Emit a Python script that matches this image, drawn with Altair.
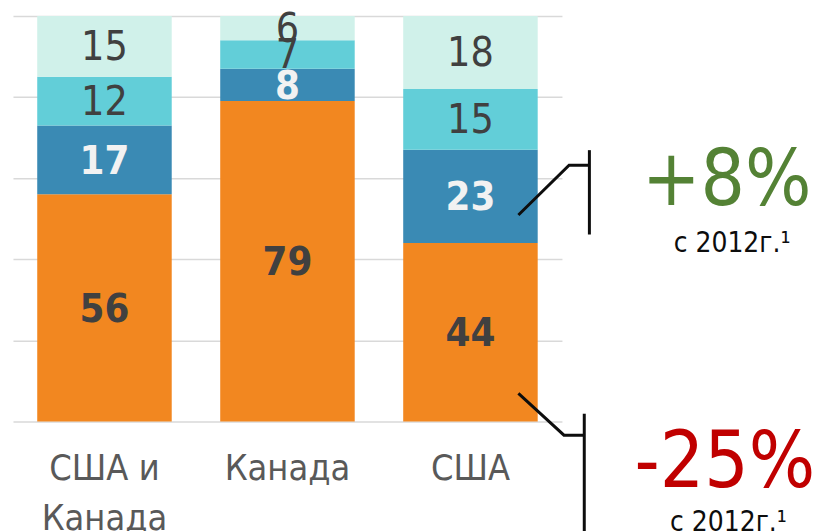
import altair as alt
import pandas as pd

# ---- data ----
categories = ["США и\nКанада", "Канада", "США"]
series = ["s1", "s2", "s3", "s4"]  # bottom -> top
s1_values = [56, 79, 44]
s2_values = [17, 8, 23]
s3_values = [12, 7, 15]
s4_values = [15, 6, 18]
series_colors = ["#F28720", "#3A8AB4", "#62CED8", "#D0F1EA"]

# bracket annotation paths (x in category units, y in percent units)
path_id = ["a", "a", "a", "b", "b", "c", "c", "c", "d", "d"]
path_x = [2.262, 2.539, 2.650, 2.650, 2.650, 2.262, 2.511, 2.622, 2.622, 2.622]
path_y = [50.9, 63.2, 63.2, 66.9, 46.1, 6.9, -3.4, -3.4, 1.9, -28.0]

ann_big_text = ["+8%", "-25%"]
ann_big_x = [3.40, 3.39]
ann_big_y = [53.4, -16.2]
ann_big_colors = ["#548235", "#C00000"]
ann_small_text = ["с 2012г.¹", "с 2012г.¹"]
ann_small_x = [3.43, 3.41]
ann_small_y = [41.7, -27.0]

FONT = "DejaVu Sans Condensed"

rows = []
for si, (s, vals) in enumerate(zip(series, [s1_values, s2_values, s3_values, s4_values])):
    for c, v in zip(categories, vals):
        rows.append({"cat": c, "series": s, "order": si, "value": v})
df = pd.DataFrame(rows)

paths = pd.DataFrame({"pid": path_id, "x": path_x, "y": path_y, "i": list(range(len(path_x)))})
big = pd.DataFrame({"text": ann_big_text, "x": ann_big_x, "y": ann_big_y, "k": ann_big_text})
small = pd.DataFrame({"text": ann_small_text, "x": ann_small_x, "y": ann_small_y})

yscale = alt.Scale(domain=[0, 100], nice=False, zero=False)
yaxis = alt.Axis(
    title=None, labels=False, ticks=False, domain=False,
    values=[0, 20, 40, 60, 80, 100], grid=True,
    gridColor="#D9D9D9", gridWidth=1.5,
)

xband = alt.X(
    "cat:N",
    sort=categories,
    scale=alt.Scale(paddingInner=0.265, paddingOuter=0.1325),
    axis=alt.Axis(
        title=None, labelExpr="split(datum.label, '\\n')", labelAngle=0,
        ticks=False, domain=False, labelFont=FONT, labelFontSize=36,
        labelColor="#595959", labelPadding=30, labelLineHeight=50, labelLimit=400,
        grid=False,
    ),
)

base = alt.Chart(df)

bars = base.mark_bar().encode(
    x=xband,
    y=alt.Y("value:Q", stack="zero", scale=yscale, axis=yaxis),
    color=alt.Color("series:N", scale=alt.Scale(domain=series, range=series_colors), legend=None),
    order=alt.Order("order:Q", sort="ascending"),
)

stacked = base.transform_stack(
    stack="value", groupby=["cat"], sort=[alt.SortField("order", order="ascending")], as_=["y0", "y1"]
).transform_calculate(mid="(datum.y0 + datum.y1) / 2")

bold_text = stacked.transform_filter("datum.order <= 1").mark_text(
    font=FONT, fontSize=40, fontWeight="bold", baseline="middle", dy=2
).encode(
    x=alt.X("cat:N", sort=categories),
    y=alt.Y("mid:Q", scale=yscale, axis=yaxis),
    text="value:Q",
    color=alt.condition("datum.order == 1", alt.value("#F2F2F2"), alt.value("#404040")),
)

normal_text = stacked.transform_filter("datum.order >= 2").mark_text(
    font=FONT, fontSize=41, baseline="middle", dy=2, color="#404040"
).encode(
    x=alt.X("cat:N", sort=categories),
    y=alt.Y("mid:Q", scale=yscale, axis=yaxis),
    text="value:Q",
)

main = alt.layer(bars, bold_text, normal_text)

xq = alt.Scale(domain=[-0.5, 2.5], nice=False, zero=False)

lines = alt.Chart(paths).mark_line(color="#0D0D0D", strokeWidth=3, strokeJoin="miter", clip=False).encode(
    x=alt.X("x:Q", scale=xq, axis=None),
    y=alt.Y("y:Q", scale=yscale, axis=yaxis),
    detail="pid:N",
    order="i:Q",
)

big_text = alt.Chart(big).mark_text(font=FONT, fontSize=78, baseline="alphabetic", align="center").encode(
    x=alt.X("x:Q", scale=xq, axis=None),
    y=alt.Y("y:Q", scale=yscale, axis=yaxis),
    text="text:N",
    color=alt.Color("k:N", scale=alt.Scale(domain=ann_big_text, range=ann_big_colors), legend=None),
)

small_text = alt.Chart(small).mark_text(font=FONT, fontSize=28, baseline="alphabetic", align="center", color="#0D0D0D").encode(
    x=alt.X("x:Q", scale=xq, axis=None),
    y=alt.Y("y:Q", scale=yscale, axis=yaxis),
    text="text:N",
)

chart = alt.layer(main, lines, big_text, small_text).resolve_scale(
    x="independent", color="independent"
).properties(
    width=551, height=407,
    padding={"left": 5, "top": 7, "right": 256, "bottom": 109},
    autosize=alt.AutoSizeParams(type="none"),
).configure_view(stroke=None)

chart.save("out.html", embed_options={"renderer": "svg", "actions": False})
